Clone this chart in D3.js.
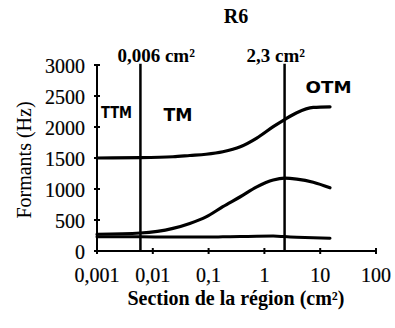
<!DOCTYPE html>
<html>
<head>
<meta charset="utf-8">
<script src="https://cdn.jsdelivr.net/npm/d3@7"></script>
<style>
  html, body { margin: 0; padding: 0; background: #fff; }
  svg { display: block; }
</style>
</head>
<body>
<script>
// Data
const areas = [0.001, 0.006, 0.023, 0.046, 0.09, 0.18, 0.37, 0.73, 1.44, 2.3, 3.8, 7.5, 15];
const F1 = [230, 228, 225, 225, 225, 228, 232, 238, 240, 232, 222, 212, 205];
const F2 = [270, 290, 365, 445, 550, 715, 875, 1035, 1145, 1175, 1160, 1110, 1020];
const F3 = [1500, 1505, 1520, 1540, 1560, 1600, 1680, 1820, 2005, 2120, 2230, 2315, 2325];
const xTicks = [0.001, 0.01, 0.1, 1, 10, 100];
const xTickLabels = ["0,001", "0,01", "0,1", "1", "10", "100"];
const yTicks = [0, 500, 1000, 1500, 2000, 2500, 3000];
const markers = [0.006, 2.3];
const markerLabels = ["0,006 cm²", "2,3 cm²"];
const regionLabels = ["TTM", "TM", "OTM"];
const title = "R6";
const xTitle = "Section de la région (cm²)";
const yTitle = "Formants (Hz)";

const W = 395, H = 328;
const svg = d3.select("body").append("svg").attr("width", W).attr("height", H);
svg.append("rect").attr("width", W).attr("height", H).attr("fill", "#fff");

const x = d3.scaleLog().domain([0.001, 100]).range([97, 376]);
const y = d3.scaleLinear().domain([0, 3000]).range([251, 65]);

const serif = "'Liberation Serif', 'Times New Roman', Times, 'DejaVu Serif', serif";
const hand = "'DejaVu Sans Condensed', 'DejaVu Sans', sans-serif";

// Title
svg.append("text").attr("x", 236).attr("y", 23).attr("text-anchor", "middle")
  .attr("font-family", serif).attr("font-weight", "bold").attr("font-size", 20)
  .text(title);

// Y axis
const yAxis = svg.append("g");
yAxis.append("line").attr("x1", x(0.001)).attr("x2", x(0.001))
  .attr("y1", y(0)).attr("y2", y(3000)).attr("stroke", "#000").attr("stroke-width", 2);
yAxis.selectAll("line.t").data(yTicks).join("line").attr("class", "t")
  .attr("x1", x(0.001) - 3).attr("x2", x(0.001) + 3)
  .attr("y1", d => y(d)).attr("y2", d => y(d)).attr("stroke", "#000").attr("stroke-width", 2);
yAxis.selectAll("text").data(yTicks).join("text")
  .attr("x", 85).attr("y", d => y(d)).attr("dy", "0.42em").attr("text-anchor", "end")
  .attr("font-family", serif).attr("font-size", 20)
  .attr("stroke", "#000").attr("stroke-width", 0.2)
  .text(d => d);

// X axis
const xAxis = svg.append("g");
xAxis.append("line").attr("x1", x(0.001)).attr("x2", x(100))
  .attr("y1", y(0)).attr("y2", y(0)).attr("stroke", "#000").attr("stroke-width", 2);
xAxis.selectAll("line.t").data(xTicks).join("line").attr("class", "t")
  .attr("x1", d => x(d)).attr("x2", d => x(d))
  .attr("y1", y(0) - 3).attr("y2", y(0) + 3).attr("stroke", "#000").attr("stroke-width", 2);
xAxis.selectAll("text").data(xTicks).join("text")
  .attr("x", d => x(d)).attr("y", 282).attr("text-anchor", "middle")
  .attr("font-family", serif).attr("font-size", 20)
  .attr("stroke", "#000").attr("stroke-width", 0.2)
  .text((d, i) => xTickLabels[i]);

// Axis titles
svg.append("text").attr("x", 236).attr("y", 305).attr("text-anchor", "middle")
  .attr("font-family", serif).attr("font-weight", "bold").attr("font-size", 20)
  .text(xTitle);
svg.append("text").attr("transform", "translate(31,160) rotate(-90)").attr("text-anchor", "middle")
  .attr("font-family", serif).attr("font-size", 20)
  .text(yTitle);

// Marker verticals
svg.selectAll("line.m").data(markers).join("line").attr("class", "m")
  .attr("x1", d => x(d)).attr("x2", d => x(d))
  .attr("y1", y(0)).attr("y2", y(3020)).attr("stroke", "#000").attr("stroke-width", 2.5);
const mOff = [-23, -38];
svg.selectAll("text.m").data(markers).join("text").attr("class", "m")
  .attr("x", (d, i) => x(d) + mOff[i]).attr("y", 62)
  .attr("font-family", serif).attr("font-weight", "bold").attr("font-size", 19)
  .text((d, i) => markerLabels[i]);

// Formant curves
const line = d3.line().x(d => x(d[0])).y(d => y(d[1])).curve(d3.curveMonotoneX);
[F1, F2, F3].forEach((s, k) => {
  svg.append("path").datum(areas.map((a, i) => [a, s[i]]))
    .attr("d", line).attr("fill", "none").attr("stroke", "#000")
    .attr("stroke-width", k === 0 ? 3 : 3.2).attr("stroke-linecap", "round");
});

// Region labels (handwritten style)
const regPos = [
  {x: x(0.001) + 4, y: y(2150), w: 31, s: 15},
  {x: x(0.006) + 23, y: y(2100), w: 29, s: 17},
  {x: x(2.3) + 21, y: y(2550), w: 46, s: 16}
];
svg.selectAll("text.r").data(regionLabels).join("text").attr("class", "r")
  .attr("x", (d, i) => regPos[i].x).attr("y", (d, i) => regPos[i].y)
  .attr("font-family", hand).attr("font-weight", "bold")
  .attr("font-size", (d, i) => regPos[i].s)
  .attr("textLength", (d, i) => regPos[i].w).attr("lengthAdjust", "spacingAndGlyphs")
  .text(d => d);
</script>
</body>
</html>
